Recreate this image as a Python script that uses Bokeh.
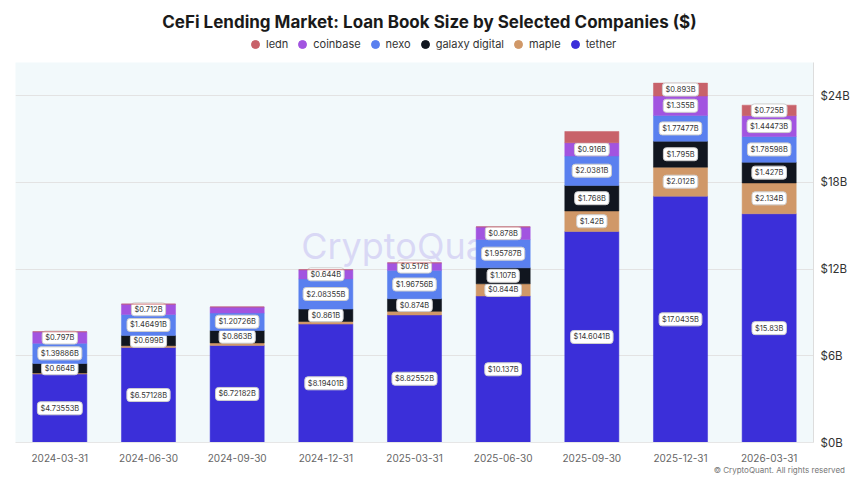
from bokeh.plotting import figure
from bokeh.layouts import column
from bokeh.models import ColumnDataSource, Legend, LegendItem, FactorRange, Range1d, LinearAxis, FixedTicker, Label, Div
from bokeh.core.properties import value
from bokeh.embed import file_html
from bokeh.resources import INLINE

dates = ["2024-03-31", "2024-06-30", "2024-09-30", "2024-12-31", "2025-03-31",
         "2025-06-30", "2025-09-30", "2025-12-31", "2026-03-31"]

tether = [4.73553, 6.57128, 6.72182, 8.19401, 8.82552, 10.137, 14.6041, 17.0435, 15.83]
maple = [0.07, 0.13, 0.17, 0.18, 0.25, 0.844, 1.42, 2.012, 2.134]
galaxy_digital = [0.664, 0.699, 0.863, 0.861, 0.874, 1.107, 1.768, 1.795, 1.427]
nexo = [1.39886, 1.46491, 1.20726, 2.08355, 1.96756, 1.95787, 2.0381, 1.77477, 1.78598]
coinbase = [0.797, 0.712, 0.42, 0.644, 0.517, 0.878, 0.916, 1.355, 1.44473]
ledn = [0, 0, 0, 0, 0, 0, 0.78, 0.893, 0.725]

# labels shown in the reference ("" = no label)
tether_lbl = ["$4.73553B", "$6.57128B", "$6.72182B", "$8.19401B", "$8.82552B", "$10.137B", "$14.6041B", "$17.0435B", "$15.83B"]
maple_lbl = ["", "", "", "", "", "$0.844B", "$1.42B", "$2.012B", "$2.134B"]
galaxy_lbl = ["$0.664B", "$0.699B", "$0.863B", "$0.861B", "$0.874B", "$1.107B", "$1.768B", "$1.795B", "$1.427B"]
nexo_lbl = ["$1.39886B", "$1.46491B", "$1.20726B", "$2.08355B", "$1.96756B", "$1.95787B", "$2.0381B", "$1.77477B", "$1.78598B"]
coinbase_lbl = ["$0.797B", "$0.712B", "", "$0.644B", "$0.517B", "$0.878B", "$0.916B", "$1.355B", "$1.44473B"]
ledn_lbl = ["", "", "", "", "", "", "", "$0.893B", "$0.725B"]

y_ticks = [0, 6, 12, 18, 24]
y_tick_labels = ["$0B", "$6B", "$12B", "$18B", "$24B"]

series = [
    ("tether", tether, tether_lbl, "#3b2fd9"),
    ("maple", maple, maple_lbl, "#d09868"),
    ("galaxy digital", galaxy_digital, galaxy_lbl, "#11161f"),
    ("nexo", nexo, nexo_lbl, "#5a80ef"),
    ("coinbase", coinbase, coinbase_lbl, "#a254e0"),
    ("ledn", ledn, ledn_lbl, "#c8626a"),
]

FONT = "Inter"
W = 852
LB, RB = 15, 37   # frame borders shared by aligned plots

# ---------- header: title + legend ----------
hdr = figure(width=W, height=62, x_range=Range1d(LB, W - RB), y_range=Range1d(0, 62),
             output_backend="svg", toolbar_location=None,
             min_border_left=LB, min_border_right=RB, min_border_top=0, min_border_bottom=0)
hdr.axis.visible = False
hdr.grid.visible = False
hdr.outline_line_color = None
hdr.background_fill_color = "white"
hdr.border_fill_color = "white"

hdr.add_layout(Label(x=430, y=41, text="CeFi Lending Market: Loan Book Size by Selected Companies ($)",
                     text_font=FONT, text_font_size="17px", text_font_style="bold",
                     text_color="#1a1a1a", text_align="center", text_baseline="middle"))

legend_renderers = {}
for name, vals, lbls, color in series:
    legend_renderers[name] = hdr.scatter(x=[float("nan")], y=[float("nan")], size=11,
                                         fill_color=color, line_color=color)
legend_order = ["ledn", "coinbase", "nexo", "galaxy digital", "maple", "tether"]
legend = Legend(items=[LegendItem(label=n, renderers=[legend_renderers[n]]) for n in legend_order],
                orientation="horizontal", location=(230, 8),
                label_text_font=FONT, label_text_font_size="11px", label_text_color="#333333",
                glyph_width=20, glyph_height=20, spacing=4, label_standoff=1,
                padding=0, margin=0, border_line_color=None, background_fill_alpha=0)
hdr.add_layout(legend, "center")

# ---------- main chart ----------
p = figure(x_range=FactorRange(*dates, range_padding=0.0), y_range=Range1d(0, 26.3),
           width=W, height=402, output_backend="svg", toolbar_location=None,
           min_border_left=LB, min_border_right=RB, min_border_top=0, min_border_bottom=20)
p.background_fill_color = "#f2f9fb"
p.border_fill_color = "white"
p.outline_line_color = None

# watermark (behind the bars)
p.add_layout(Label(x=4.45, y=13.57, text="CryptoQuant", level="underlay",
                   text_font=FONT, text_font_size="36px", text_color="#d3d0f4",
                   text_alpha=0.8, text_align="center", text_baseline="middle"))

base = [0.0] * len(dates)
for name, vals, lbls, color in series:
    top = [b + v for b, v in zip(base, vals)]
    src = ColumnDataSource(dict(x=dates, bottom=base, top=top))
    p.vbar(x="x", bottom="bottom", top="top", width=0.61, source=src,
           fill_color=color, line_color=color, line_width=0.5)
    keep = [i for i, l in enumerate(lbls) if l]
    lsrc = ColumnDataSource(dict(x=[dates[i] for i in keep],
                                 mid=[base[i] + vals[i] / 2 for i in keep],
                                 lbl=[lbls[i] for i in keep]))
    p.text(x="x", y="mid", text="lbl", source=lsrc, text_font=value(FONT),
           text_font_size="7.5px", text_color="#333333", text_align="center",
           text_baseline="middle", background_fill_color="white",
           border_line_color="#cfcfcf", border_line_width=1, padding=(3, 2),
           border_radius=3)
    base = top

p.yaxis.visible = False
yax = LinearAxis(ticker=FixedTicker(ticks=y_ticks),
                 major_label_overrides={t: l for t, l in zip(y_ticks, y_tick_labels)})
yax.major_label_text_font = FONT
yax.major_label_text_font_size = "11.5px"
yax.major_label_text_color = "#333333"
yax.axis_line_color = "#dddddd"
yax.major_tick_line_color = None
yax.minor_tick_line_color = None
yax.major_tick_out = 0
yax.major_tick_in = 0
yax.minor_tick_out = 0
yax.major_label_standoff = 7
p.add_layout(yax, "right")

p.xaxis.major_label_text_font = FONT
p.xaxis.major_label_text_font_size = "10px"
p.xaxis.major_label_text_color = "#666666"
p.xaxis.axis_line_color = "#e6e6e6"
p.xaxis.major_tick_line_color = None
p.xaxis.minor_tick_line_color = None
p.xaxis.major_tick_out = 0
p.xaxis.major_tick_in = 0
p.xaxis.major_label_standoff = 11

p.xgrid.grid_line_color = None
p.ygrid.ticker = FixedTicker(ticks=y_ticks)
p.ygrid.grid_line_color = "#e3e3e3"

# ---------- footer: credit ----------
ftr = Div(text="© CryptoQuant. All rights reserved", width=W, height=12,
          styles={"font-family": "Inter", "font-size": "8px", "color": "#777777",
                  "text-align": "right", "line-height": "12px", "padding-right": "12px",
                  "box-sizing": "border-box", "width": f"{W}px",
                  "position": "relative", "top": "-5px"})

layout = column(hdr, p, ftr, spacing=0)
open("out.html", "w").write(file_html(layout, INLINE))
